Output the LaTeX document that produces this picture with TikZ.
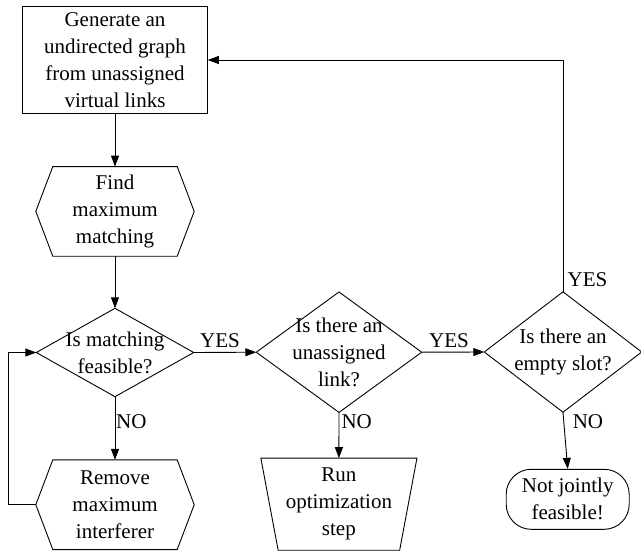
\documentclass[tikz,border=0pt]{standalone}
\usepackage{fontspec}
\setmainfont{Liberation Serif}
\usetikzlibrary{arrows.meta,calc}

\begin{document}
\begin{tikzpicture}[x=1pt,y=-1pt,
  every node/.style={font=\fontsize{21}{27}\selectfont},
  frame/.style={draw=none,inner sep=0pt,align=center},
  outline/.style={draw=black,line width=0.9pt,line join=miter},
  flow/.style={draw=black,line width=0.9pt,-{Triangle[length=11pt,width=8pt]}},
  tag/.style={inner sep=0pt}
]
\useasboundingbox (0,0) rectangle (641,552);

% process box
\node[frame,draw=black,line width=0.9pt,minimum width=184.6,minimum height=106.6] (gen) at (115,60)
  {Generate an\\undirected graph\\from unassigned\\virtual links};

% hexagonal step boxes
\node[frame,minimum width=158,minimum height=89.3] (find) at (115,211.4) {Find\\maximum\\matching};
\draw[outline] (find.west) -- ($(find.north west)+(17,0)$) -- ($(find.north east)+(-17,0)$)
  -- (find.east) -- ($(find.south east)+(-17,0)$) -- ($(find.south west)+(17,0)$) -- cycle;

\node[frame,minimum width=158,minimum height=89.3] (remove) at (115,504.7) {Remove\\maximum\\interferer};
\draw[outline] (remove.west) -- ($(remove.north west)+(17,0)$) -- ($(remove.north east)+(-17,0)$)
  -- (remove.east) -- ($(remove.south east)+(-17,0)$) -- ($(remove.south west)+(17,0)$) -- cycle;

% decisions
\node[frame,minimum width=157,minimum height=88] (feas) at (115,352.5) {Is matching\\feasible?};
\draw[outline] (feas.north) -- (feas.east) -- (feas.south) -- (feas.west) -- cycle;

\node[frame,minimum width=165,minimum height=120] (unas) at (339,352.2) {Is there an\\unassigned\\link?};
\draw[outline] (unas.north) -- (unas.east) -- (unas.south) -- (unas.west) -- cycle;

\node[frame,minimum width=157,minimum height=120] (slot) at (563,352) {Is there an\\empty slot?};
\draw[outline] (slot.north) -- (slot.east) -- (slot.south) -- (slot.west) -- cycle;

% optimisation step (trapezium, wide side on top)
\node[frame,minimum width=155.7,minimum height=91.7] (opt) at (338.9,504.2) {Run\\optimization\\step};
\draw[outline] (opt.north west) -- (opt.north east) -- ($(opt.south east)+(-17.3,0)$)
  -- ($(opt.south west)+(17.3,0)$) -- cycle;

% terminal
\node[frame,draw=black,line width=0.9pt,rounded corners=25pt,minimum width=123,minimum height=60] (fail) at (567.7,499.3)
  {Not jointly\\feasible!};

% connectors
\draw[flow] (gen.south) -- (gen.south |- find.north);
\draw[flow] (find.south) -- (feas.north);
\draw[flow] (feas.south) -- (remove.north);
\draw[flow] (remove.west) -- ++(-27.7,0) |- (feas.west);
\draw[flow] (feas.east) -- (unas.west);
\draw[flow] (unas.east) -- (slot.west);
\draw[flow] (unas.south) -- (opt.north);
\draw[flow] (slot.south) -- (fail.north);
\draw[flow] (slot.north) |- (gen.east);

% branch labels
\node[tag] (yes1) at (220,340.7) {YES};
\node[tag] (yes2) at (449,341) {YES};
\node[tag] (yes3) at (587.5,279.3) {YES};
\node[tag] (no1) at (131.3,421.7) {NO};
\node[tag] (no2) at (356.7,421.7) {NO};
\node[tag] (no3) at (588,421.7) {NO};
\end{tikzpicture}
\end{document}
